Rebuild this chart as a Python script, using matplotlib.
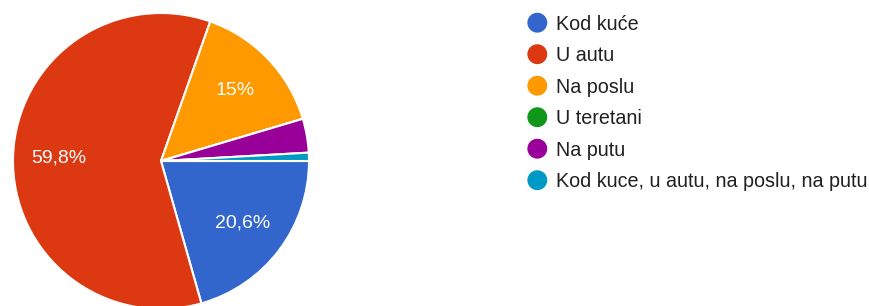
import matplotlib
matplotlib.use("Agg")
import matplotlib.pyplot as plt
import numpy as np

categories = ["Kod kuće", "U autu", "Na poslu", "U teretani", "Na putu",
              "Kod kuce, u autu, na poslu, na putu"]
percentages = [20.6, 59.8, 15.0, 0.0, 3.7, 0.9]
colors = ["#3366cc", "#dc3912", "#ff9900", "#109618", "#990099", "#0099c6"]

plt.rcParams['font.family'] = ['Liberation Sans', 'DejaVu Sans']

W, H = 870, 306
fig = plt.figure(figsize=(W / 100, H / 100), dpi=100)

cx, cy, r = 161, 161, 148
ax = fig.add_axes([(cx - r) / W, (H - cy - r) / H, 2 * r / W, 2 * r / H])


def fmt(p):
    s = f"{p:.1f}".rstrip("0").rstrip(".")
    return s.replace(".", ",") + "%"


wedges, _ = ax.pie(percentages, colors=colors, startangle=0, counterclock=False,
                   radius=1, wedgeprops=dict(edgecolor="white", linewidth=1.5))
total = sum(percentages)
ang = 0.0
for p in percentages:
    if p >= 5:
        mid = np.deg2rad(-(ang + p / total * 360 / 2))
        ax.text(0.69 * np.cos(mid), 0.69 * np.sin(mid), fmt(p), color="white",
                ha="center", va="center", fontsize=14)
    ang += p / total * 360
ax.set_xlim(-1, 1)
ax.set_ylim(-1, 1)
ax.set_aspect("equal")
ax.axis("off")

# legend
lax = fig.add_axes([0, 0, 1, 1])
lax.set_xlim(0, W)
lax.set_ylim(H, 0)
lax.axis("off")
fs = 14.2
cap = 0.716 * fs * 100 / 72
y0, dy = 22.7, 31.5
for i, (lab, col) in enumerate(zip(categories, colors)):
    y = y0 + i * dy
    lax.scatter([537.3], [y], s=205, color=col, edgecolors="none")
    lax.text(556.5, y + cap / 2, lab, fontsize=fs, va="baseline", ha="left",
             color="#212121")

fig.savefig("out.png", dpi=100)
